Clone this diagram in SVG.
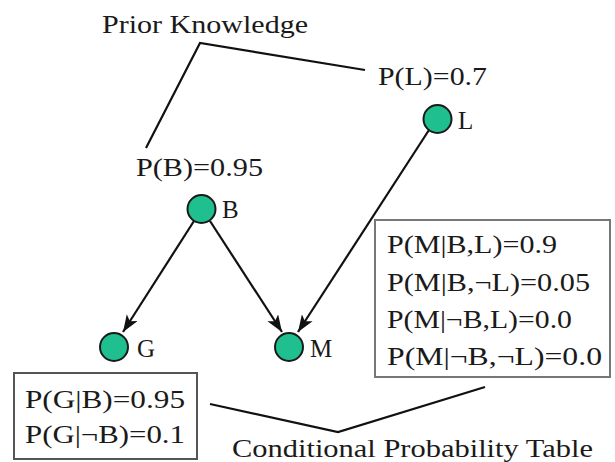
<svg xmlns="http://www.w3.org/2000/svg" width="615" height="462" viewBox="0 0 615 462">
<style>
text{font-family:"Liberation Serif","Times New Roman",Tinos,Times,serif;font-size:25px;fill:#1a1a1a}
.node{fill:#1fbf8f;stroke:#1a1a1a;stroke-width:2}
.edge{stroke:#111;stroke-width:2.2;fill:none}
.lead{stroke:#111;stroke-width:2.2;fill:none}
.box{fill:#fff;stroke:#777;stroke-width:2}
</style>
<defs>
<marker id="arrow" viewBox="0 0 16 12" refX="16" refY="6" markerWidth="17" markerHeight="13" markerUnits="userSpaceOnUse" orient="auto">
<path d="M0,0 L16,6 L0,12 L4,6 z" fill="#111"/>
</marker>
</defs>
<g id="connectors">
<line class="edge" x1="194" y1="221" x2="123" y2="332" marker-end="url(#arrow)"/>
<line class="edge" x1="210" y1="221" x2="282" y2="332" marker-end="url(#arrow)"/>
<line class="edge" x1="429" y1="130" x2="298" y2="332" marker-end="url(#arrow)"/>
</g>
<g id="prior-knowledge">
<text x="102" y="33" textLength="206" lengthAdjust="spacingAndGlyphs">Prior Knowledge</text>
<polyline class="lead" points="146,148 200,43 365,70"/>
</g>
<g id="node-L">
<text x="378" y="85" textLength="109" lengthAdjust="spacingAndGlyphs">P(L)=0.7</text>
<circle class="node" cx="437.5" cy="119" r="14"/>
<text x="458" y="129">L</text>
</g>
<g id="node-B">
<text x="136" y="176" textLength="127" lengthAdjust="spacingAndGlyphs">P(B)=0.95</text>
<circle class="node" cx="201.5" cy="209" r="14"/>
<text x="222" y="218">B</text>
</g>
<g id="node-G">
<circle class="node" cx="114" cy="347" r="14"/>
<text x="137" y="357">G</text>
</g>
<g id="node-M">
<circle class="node" cx="289" cy="347" r="14"/>
<text x="310" y="357">M</text>
</g>
<g id="cpt-M">
<rect class="box" x="375" y="220" width="235" height="157"/>
<text x="387" y="253" textLength="170" lengthAdjust="spacingAndGlyphs">P(M|B,L)=0.9</text>
<text x="387" y="291" textLength="203" lengthAdjust="spacingAndGlyphs">P(M|B,¬L)=0.05</text>
<text x="387" y="328" textLength="185" lengthAdjust="spacingAndGlyphs">P(M|¬B,L)=0.0</text>
<text x="387" y="365" textLength="215" lengthAdjust="spacingAndGlyphs">P(M|¬B,¬L)=0.0</text>
</g>
<g id="cpt-G">
<rect class="box" x="14" y="373" width="183" height="86" style="stroke:#555"/>
<text x="25" y="408" textLength="160" lengthAdjust="spacingAndGlyphs">P(G|B)=0.95</text>
<text x="25" y="443" textLength="160" lengthAdjust="spacingAndGlyphs">P(G|¬B)=0.1</text>
</g>
<g id="cpt-label">
<polyline class="lead" points="210,404 338,432 485,387"/>
<text x="232" y="457" textLength="361" lengthAdjust="spacingAndGlyphs">Conditional Probability Table</text>
</g>
</svg>
